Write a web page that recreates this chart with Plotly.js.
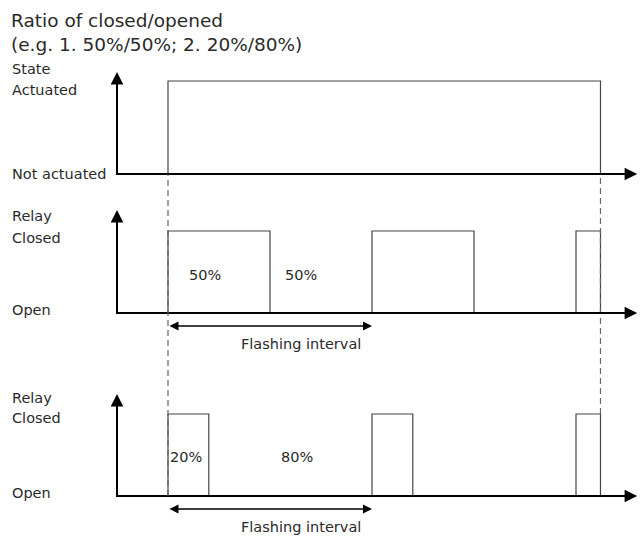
<!DOCTYPE html>
<html>
<head>
<meta charset="utf-8">
<script src="https://cdn.plot.ly/plotly-3.0.1.min.js"></script>
<style>html,body{margin:0;padding:0;background:#fff;}#chart{width:640px;height:536px;}</style>
</head>
<body>
<div id="chart"></div>
<script>
// ---- data (time in arbitrary units; one flashing interval = 10) ----
const stateOnOff = [2.5, 23.7];            // actuation start / end
const pulseStarts = [2.5, 12.5, 22.5];     // relay closes at each interval start
const relay50Ends = [7.5, 17.5, 23.7];     // 50% / 50%
const relay20Ends = [4.5, 14.5, 23.7];     // 20% / 80%
const intervalSpan = [2.5, 12.5];          // one flashing interval
const axisEnd = 25.5;
const titleLines = ["Ratio of closed/opened", "(e.g. 1. 50%/50%; 2. 20%/80%)"];
const panelLabels = [
  {axis: "y",  lines: [["State", 1.13], ["Actuated", 0.90], ["Not actuated", 0.0]]},
  {axis: "y2", lines: [["Relay", 1.18], ["Closed", 0.92], ["Open", 0.04]]},
  {axis: "y3", lines: [["Relay", 1.19], ["Closed", 0.95], ["Open", 0.04]]}
];
const pctLabels = [
  {axis: "y2", x: 4.3,  y: 0.46, text: "50%"},
  {axis: "y2", x: 9.0,  y: 0.46, text: "50%"},
  {axis: "y3", x: 3.4,  y: 0.48, text: "20%"},
  {axis: "y3", x: 8.8,  y: 0.48, text: "80%"}
];

// ---- layout geometry ----
const W = 640, H = 536;
const x0px = 117, pxPerUnit = 20.4;
const xr = [(0 - x0px) / pxPerUnit, (W - x0px) / pxPerUnit];
function dom(basePx, unitPx, lo, hi) {
  return [1 - (basePx - lo * unitPx) / H, 1 - (basePx - hi * unitPx) / H];
}
const P = {
  y:  {base: 174, unit: 93, lo: -0.2, hi: 1.3, top: 1.097},
  y2: {base: 313, unit: 82, lo: -0.45, hi: 1.45, top: 1.256},
  y3: {base: 496, unit: 82, lo: -0.45, hi: 1.4, top: 1.244}
};

const FONT = "DejaVu Sans, Liberation Sans, sans-serif";
const TXT = "#2a2a2a";
const sigColor = "#444";
const axColor = "#000";

function stepTrace(starts, ends, yaxis) {
  const xs = [], ys = [];
  for (let i = 0; i < starts.length; i++) {
    xs.push(starts[i], starts[i], ends[i], ends[i], null);
    ys.push(0, 1, 1, 0, null);
  }
  return {x: xs, y: ys, yaxis: yaxis, mode: "lines", type: "scatter",
          line: {color: sigColor, width: 1.2}, hoverinfo: "skip", showlegend: false};
}

const traces = [
  stepTrace([stateOnOff[0]], [stateOnOff[1]], "y"),
  stepTrace(pulseStarts, relay50Ends, "y2"),
  stepTrace(pulseStarts, relay20Ends, "y3")
];

// axes lines as traces
["y", "y2", "y3"].forEach(a => {
  traces.push({x: [0, 0, axisEnd - 0.5], y: [P[a].top - 0.05, 0, 0], yaxis: a, mode: "lines",
    type: "scatter", line: {color: axColor, width: 2}, hoverinfo: "skip", showlegend: false});
});

const annotations = [];
// arrowheads
["y", "y2", "y3"].forEach(a => {
  annotations.push({x: 0, y: P[a].top, xref: "x", yref: a, axref: "x", ayref: a,
    ax: 0, ay: P[a].top - 0.2, showarrow: true, arrowhead: 2, arrowsize: 1.4,
    arrowwidth: 1.8, arrowcolor: axColor, text: ""});
  annotations.push({x: axisEnd, y: 0, xref: "x", yref: a, axref: "x", ayref: a,
    ax: axisEnd - 2, ay: 0, showarrow: true, arrowhead: 2, arrowsize: 1.4,
    arrowwidth: 1.8, arrowcolor: axColor, text: ""});
});
// flashing interval double arrows
["y2", "y3"].forEach(a => {
  const yy = -13 / P[a].unit;
  annotations.push({x: intervalSpan[1], y: yy, xref: "x", yref: a, axref: "x", ayref: a,
    ax: intervalSpan[0], ay: yy, showarrow: true, arrowhead: 2, startarrowhead: 2, arrowside: "end+start",
    arrowsize: 1.2, arrowwidth: 1.5, startarrowsize: 1.2, arrowcolor: axColor, text: ""});
  annotations.push({x: (intervalSpan[0] + intervalSpan[1]) / 2 + 1.5, y: -31 / P[a].unit, xref: "x", yref: a,
    showarrow: false, text: "Flashing interval", font: {family: FONT, size: 14.5, color: TXT}});
});
// left labels
panelLabels.forEach(p => p.lines.forEach(l => {
  annotations.push({x: 10 / W, xref: "paper", y: l[1], yref: p.axis, xanchor: "left", showarrow: false,
    text: l[0], font: {family: FONT, size: 14.5, color: TXT}});
}));
pctLabels.forEach(p => annotations.push({x: p.x, y: p.y, xref: "x", yref: p.axis, showarrow: false,
  text: p.text, font: {family: FONT, size: 14.5, color: TXT}}));
// title
annotations.push({x: 9 / W, y: 1 - 8 / H, xref: "paper", yref: "paper", xanchor: "left", yanchor: "top",
  align: "left", showarrow: false, text: titleLines.join("<br>"),
  font: {family: FONT, size: 18.5, color: TXT}});

// dashed guides
const shapes = [
  {type: "line", xref: "x", yref: "paper", x0: stateOnOff[0], x1: stateOnOff[0],
   y0: 1 - 496 / H, y1: 1 - 174 / H, line: {color: "#666", width: 1.2, dash: "6px,4px"}},
  {type: "line", xref: "x", yref: "paper", x0: stateOnOff[1], x1: stateOnOff[1],
   y0: 1 - 414 / H, y1: 1 - 174 / H, line: {color: "#666", width: 1.2, dash: "6px,4px"}}
];

function yax(a) {
  return {domain: dom(P[a].base, P[a].unit, P[a].lo, P[a].hi), range: [P[a].lo, P[a].hi],
          visible: false, fixedrange: true, anchor: "x"};
}
const layout = {
  width: W, height: H, margin: {l: 0, r: 0, t: 0, b: 0},
  paper_bgcolor: "#fff", plot_bgcolor: "rgba(0,0,0,0)",
  xaxis: {range: xr, visible: false, fixedrange: true},
  yaxis: yax("y"), yaxis2: yax("y2"), yaxis3: yax("y3"),
  annotations: annotations, shapes: shapes, showlegend: false
};
Plotly.newPlot("chart", traces, layout, {staticPlot: true});
</script>
</body>
</html>
